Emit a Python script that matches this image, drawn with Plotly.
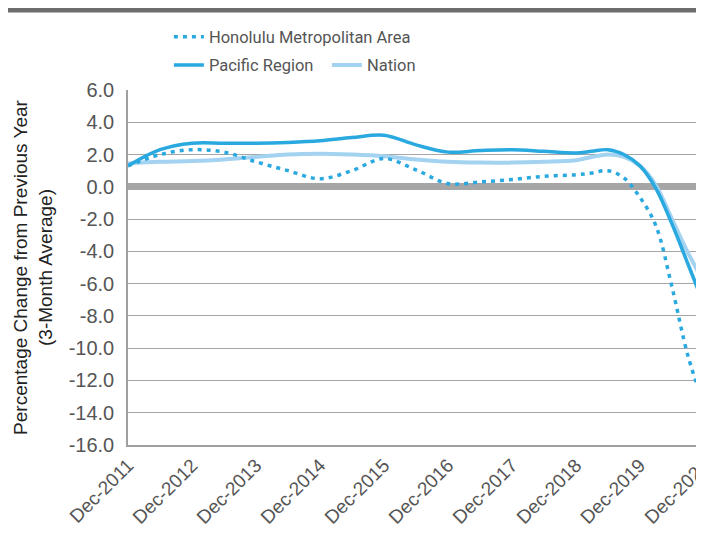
import plotly.graph_objects as go

dates = ["2011-12-01", "2012-06-01", "2012-12-01", "2013-06-01", "2013-12-01",
         "2014-06-01", "2014-12-01", "2015-06-01", "2015-12-01", "2016-06-01",
         "2016-12-01", "2017-06-01", "2017-12-01", "2018-06-01", "2018-12-01",
         "2019-03-01", "2019-06-01", "2019-09-01", "2019-12-01", "2020-03-01",
         "2020-06-01", "2020-09-01", "2020-12-01"]

honolulu = [1.3, 2.0, 2.3, 2.15, 1.55, 1.0, 0.5, 1.0, 1.75, 1.05,
            0.2, 0.3, 0.45, 0.65, 0.75, 0.85, 1.0, 0.55, -0.65, -2.4,
            -6.2, -10.5, -13.5]
pacific = [1.3, 2.3, 2.7, 2.7, 2.7, 2.75, 2.85, 3.05, 3.2, 2.6,
           2.15, 2.25, 2.3, 2.2, 2.1, 2.2, 2.3, 2.0, 1.3, -0.1,
           -2.3, -4.8, -7.3]
nation = [1.45, 1.55, 1.6, 1.7, 1.85, 2.0, 2.05, 2.0, 1.9, 1.7,
          1.55, 1.5, 1.5, 1.55, 1.65, 1.85, 2.0, 1.85, 1.3, 0.1,
          -2.0, -4.1, -5.9]

y_ticks = [6, 4, 2, 0, -2, -4, -6, -8, -10, -12, -14, -16]
y_labels = ["6.0", "4.0", "2.0", "0.0", "-2.0", "-4.0", "-6.0", "-8.0",
            "-10.0", "-12.0", "-14.0", "-16.0"]

blue = "#29a9e0"
light = "#a3d3f0"
font = "Liberation Sans"
legend_font = "Roboto"

fig = go.Figure()
fig.add_trace(go.Scatter(x=dates, y=nation, name="Nation", mode="lines",
                         line=dict(color=light, width=4, shape="spline"),
                         legend="legend2", legendrank=2, showlegend=True))
fig.add_trace(go.Scatter(x=dates, y=pacific, name="Pacific Region", mode="lines",
                         line=dict(color=blue, width=3.5, shape="spline"),
                         legend="legend2", legendrank=1, showlegend=True))
fig.add_trace(go.Scatter(x=dates, y=honolulu, name="Honolulu Metropolitan Area",
                         mode="lines",
                         line=dict(color=blue, width=3.5, shape="spline", dash="4px,5px"),
                         legend="legend", showlegend=True))

fig.update_layout(
    width=696, height=530,
    showlegend=True,
    margin=dict(l=120, r=0, t=82, b=93, autoexpand=False),
    paper_bgcolor="white", plot_bgcolor="white",
    font=dict(family=font, size=18, color="#444"),
    legend=dict(orientation="h", x=0.071, y=1.149, xanchor="left", yanchor="middle",
                font=dict(size=16.5, color="#555", family=legend_font),
                bgcolor="rgba(0,0,0,0)"),
    legend2=dict(orientation="h", x=0.071, y=1.070, xanchor="left", yanchor="middle",
                 font=dict(size=16.5, color="#555", family=legend_font),
                 bgcolor="rgba(0,0,0,0)", entrywidth=113),
    shapes=[dict(type="rect", xref="paper", yref="paper", x0=-0.21, x1=1.02,
                 y0=1.2183, y1=1.24, fillcolor="#6d6d6d", line=dict(width=0),
                 layer="above")],
)

fig.update_xaxes(
    type="date", range=["2011-12-01", "2020-12-01"],
    tick0="2011-12-01", dtick="M12", tickformat="%b-%Y", tickangle=-45,
    tickfont=dict(size=19, color="#555", family=font),
    showgrid=False, showline=True, linecolor="#a0a0a0", linewidth=1.5,
    ticks="", automargin=False, ticklabeloverflow="allow",
)
fig.update_yaxes(
    range=[-16, 6], tickvals=y_ticks, ticktext=y_labels,
    tickfont=dict(size=20, color="#555", family=font),
    showgrid=True, gridcolor="#a6a6a6", gridwidth=1.3,
    zeroline=True, zerolinecolor="#a6a6a6", zerolinewidth=7,
    showline=True, linecolor="#a0a0a0", linewidth=1.5,
    ticks="", ticklen=0, automargin=False, ticklabelstandoff=8,
    title=dict(text="Percentage Change from Previous Year<br>(3-Month Average)",
               font=dict(size=19, color="#222", family=font), standoff=11),
)

fig.write_html("out.html")
